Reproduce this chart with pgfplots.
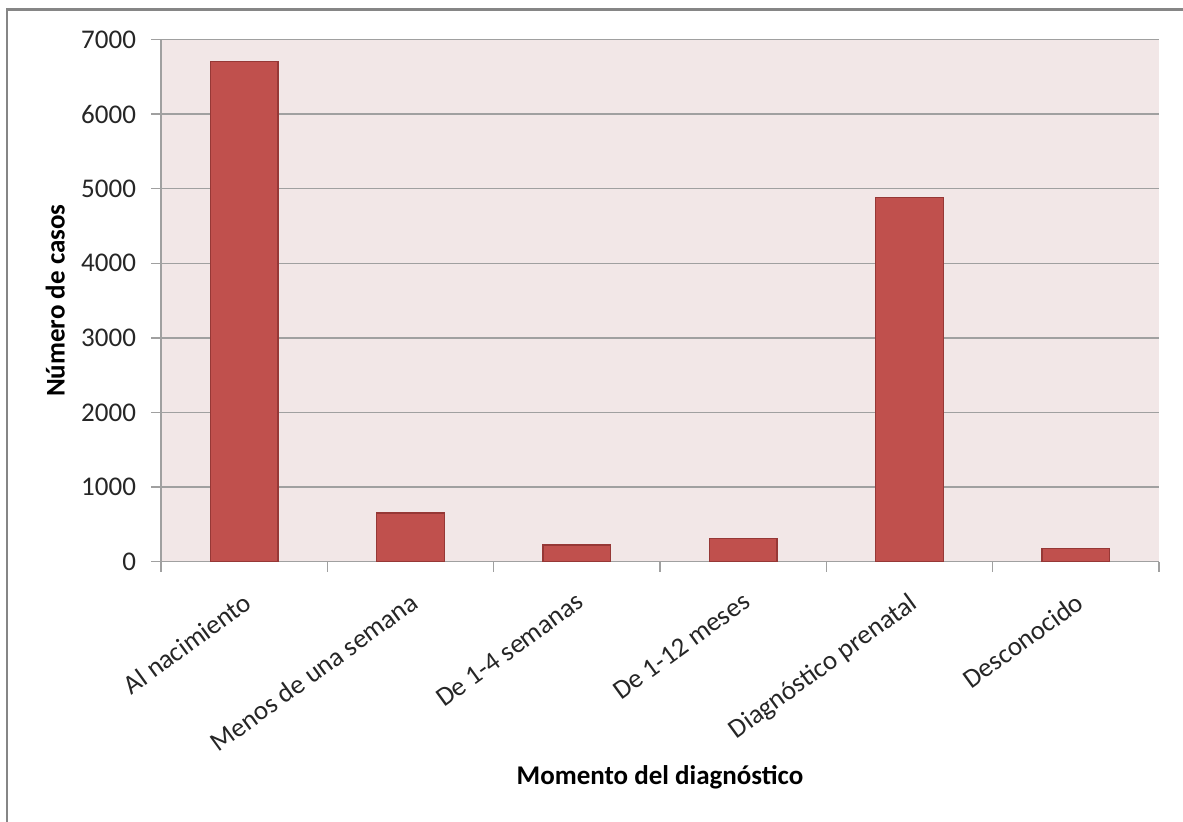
\documentclass[border=0pt]{standalone}
\usepackage{pgfplots}
\pgfplotsset{compat=1.18}
\usepackage{fontspec}
\setmainfont{Carlito}

\definecolor{barfill}{RGB}{192,80,77}
\definecolor{baredge}{RGB}{150,56,54}
\definecolor{plotbg}{RGB}{242,231,231}
\definecolor{gridgray}{RGB}{160,160,160}
\definecolor{framegray}{RGB}{134,134,134}

\begin{document}
\begin{tikzpicture}[x=0.5pt,y=0.5pt]
\useasboundingbox (0,0) rectangle (1183,821);
% chart frame (left and top edges)
\draw[framegray, line width=1.3pt] (7,-10) -- (7,811.5) -- (1200,811.5);
\begin{axis}[
  at={(80.5pt,129.65pt)}, anchor=south west,
  scale only axis, width=499pt, height=261.1pt,
  xmin=0.5, xmax=6.5, ymin=0, ymax=7000,
  axis background/.style={fill=plotbg},
  axis x line*=bottom, axis y line*=left,
  axis line style={gridgray, line width=0.7pt},
  ytick={0,1000,...,7000},
  ymajorgrids, major grid style={gridgray, line width=0.7pt},
  xtick={1,...,6},
  xticklabels={Al nacimiento, Menos de una semana, De 1-4 semanas, De 1-12 meses, Diagnóstico prenatal, Desconocido},
  minor xtick={0.5,1.5,...,6.5},
  major x tick style={draw=none},
  tick align=outside,
  major tick length=5pt, minor tick length=5pt,
  tick style={gridgray, line width=0.7pt},
  minor tick style={gridgray, line width=0.7pt},
  /pgf/number format/assume math mode=true,
  /pgf/number format/1000 sep={},
  tick label style={font=\fontsize{13.5}{16}\selectfont, text=black!85},
  yticklabel style={xshift=-4pt},
  xticklabel style={rotate=36, anchor=north east, xshift=-3pt, yshift=-4pt},
  label style={font=\fontsize{13.5}{16}\selectfont\bfseries},
  xlabel={Momento del diagnóstico},
  ylabel={Número de casos},
  xlabel style={at={(axis description cs:0.5,-0.413)}, anchor=center},
  ylabel style={at={(axis description cs:-0.106,0.5)}, anchor=center},
]
\addplot[ybar, bar width=33.8pt, fill=barfill, draw=baredge, line width=0.6pt]
  coordinates {(1,6710) (2,652) (3,224) (4,308) (5,4878) (6,174)};
\end{axis}
\end{tikzpicture}
\end{document}
